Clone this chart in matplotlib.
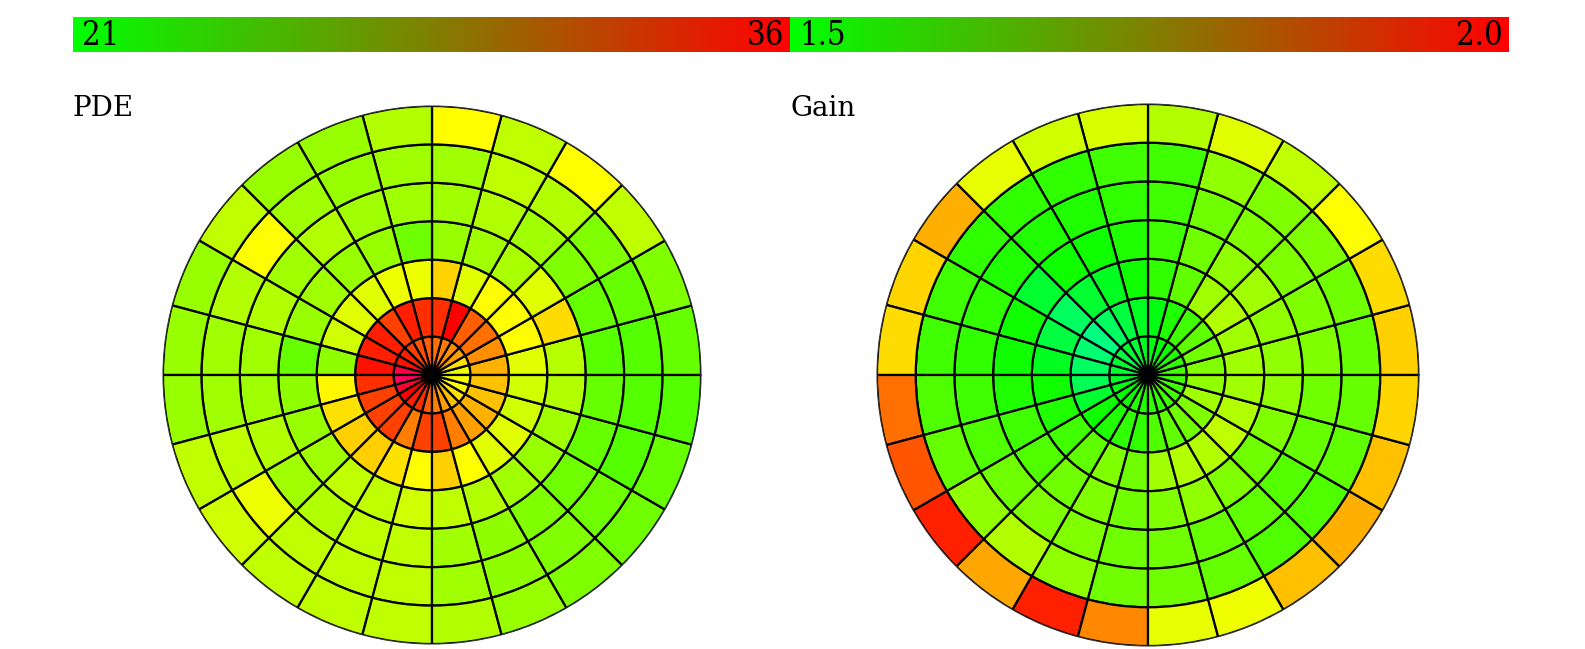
import numpy as np
import matplotlib
matplotlib.use("Agg")
import matplotlib.pyplot as plt
from matplotlib.colors import ListedColormap, LinearSegmentedColormap, Normalize, hsv_to_rgb
from matplotlib.cm import ScalarMappable

# ---------- datos: 7 anillos (de dentro hacia fuera) x 24 sectores de 15 grados ----------
sectores_grados = np.arange(0, 360, 15)

pde_min, pde_max = 21, 36
pde_r1 = [28.0, 29.4, 31.3, 31.8, 32.3, 32.7, 33.2, 33.6, 34.1, 35.1, 35.5, 37.9,
          38.8, 37.4, 36.0, 35.1, 34.6, 33.2, 32.3, 31.3, 30.3, 29.4, 28.5, 28.3]
pde_r2 = [30.8, 31.8, 32.7, 33.2, 36.0, 34.6, 34.6, 35.1, 34.1, 35.1, 35.1, 35.5,
          34.6, 34.1, 34.1, 34.1, 32.3, 34.1, 34.1, 32.3, 31.3, 30.8, 30.3, 30.3]
pde_r3 = [27.6, 28.5, 28.5, 28.5, 27.6, 29.8, 28.0, 28.0, 27.6, 27.6, 27.1, 25.2,
          28.7, 29.4, 29.9, 29.9, 29.4, 28.5, 29.9, 28.5, 27.6, 27.6, 27.1, 27.1]
pde_r4 = [26.4, 29.5, 27.6, 26.0, 25.7, 25.5, 24.3, 25.5, 25.5, 25.7, 25.5, 24.0,
          25.2, 25.5, 25.7, 26.6, 26.6, 27.1, 26.6, 26.2, 25.7, 25.5, 25.7, 26.2]
pde_r5 = [23.6, 24.0, 24.75, 25.7, 26.2, 25.7, 25.7, 25.7, 26.2, 25.7, 26.2, 25.7,
          25.7, 26.2, 25.7, 26.2, 26.6, 26.6, 25.7, 25.2, 24.75, 24.3, 24.0, 24.0]
pde_r6 = [23.5, 24.0, 24.75, 26.2, 26.6, 25.7, 25.7, 25.5, 25.7, 28.5, 26.2, 25.7,
          25.7, 26.6, 28.0, 26.6, 26.6, 26.6, 25.7, 25.2, 24.75, 24.3, 23.5, 23.5]
pde_r7 = [24.0, 24.75, 26.6, 28.5, 26.6, 28.5, 26.2, 25.5, 25.5, 26.6, 25.5, 25.5,
          25.5, 26.6, 27.1, 26.6, 26.6, 26.6, 26.2, 25.5, 24.75, 24.3, 24.0, 23.5]

gain_min, gain_max = 1.5, 2.0
gain_r1 = [1.563, 1.547, 1.531, 1.516, 1.500, 1.484, 1.469, 1.453, 1.453, 1.437, 1.453, 1.453,
           1.469, 1.484, 1.500, 1.516, 1.531, 1.531, 1.547, 1.547, 1.563, 1.563, 1.563, 1.563]
gain_r2 = [1.625, 1.610, 1.594, 1.563, 1.531, 1.484, 1.469, 1.437, 1.406, 1.375, 1.390, 1.406,
           1.420, 1.453, 1.516, 1.531, 1.547, 1.547, 1.578, 1.594, 1.610, 1.625, 1.657, 1.641]
gain_r3 = [1.657, 1.657, 1.673, 1.657, 1.594, 1.547, 1.516, 1.469, 1.453, 1.406, 1.437, 1.469,
           1.516, 1.531, 1.563, 1.594, 1.625, 1.610, 1.657, 1.673, 1.673, 1.688, 1.673, 1.657]
gain_r4 = [1.641, 1.641, 1.657, 1.641, 1.610, 1.563, 1.531, 1.516, 1.516, 1.453, 1.516, 1.516,
           1.531, 1.563, 1.578, 1.610, 1.625, 1.610, 1.625, 1.641, 1.625, 1.610, 1.625, 1.641]
gain_r5 = [1.625, 1.625, 1.625, 1.625, 1.610, 1.563, 1.547, 1.531, 1.531, 1.531, 1.547, 1.547,
           1.563, 1.578, 1.610, 1.625, 1.625, 1.610, 1.610, 1.600, 1.594, 1.583, 1.600, 1.610]
gain_r6 = [1.600, 1.610, 1.625, 1.625, 1.641, 1.563, 1.563, 1.547, 1.547, 1.547, 1.563, 1.563,
           1.578, 1.600, 1.641, 1.673, 1.641, 1.610, 1.610, 1.600, 1.578, 1.578, 1.594, 1.600]
gain_r7 = [1.796, 1.784, 1.750, 1.688, 1.720, 1.673, 1.712, 1.704, 1.727, 1.828, 1.791, 1.784,
           1.890, 1.917, 1.969, 1.838, 1.969, 1.867, 1.727, 1.735, 1.812, 1.828, 1.812, 1.791]

pde = np.array([pde_r1, pde_r2, pde_r3, pde_r4, pde_r5, pde_r6, pde_r7])
gain = np.array([gain_r1, gain_r2, gain_r3, gain_r4, gain_r5, gain_r6, gain_r7])

# ---------- mapas de color ----------
EXT = 0.6
tt = np.linspace(-EXT, 1 + EXT, 1024)
hue = ((1 - tt) / 3.0) % 1.0
mapa_celdas = ListedColormap(hsv_to_rgb(np.column_stack([hue, np.ones_like(hue), np.ones_like(hue)])))
mapa_barra = LinearSegmentedColormap.from_list("verde_rojo", ["#00ff00", "#ff0000"])

W, H = 1585, 649
fig = plt.figure(figsize=(W / 100, H / 100), dpi=100)


def caja(x0, y0, x1, y1):
    return [x0 / W, 1 - y1 / H, (x1 - x0) / W, (y1 - y0) / H]


def dibujar_polar(ax, datos, vmin, vmax):
    rango = vmax - vmin
    norm = Normalize(vmin - EXT * rango, vmax + EXT * rango)
    n_anillos, n_sect = datos.shape
    ancho = np.deg2rad(360 / n_sect)
    theta = np.deg2rad(sectores_grados) + ancho / 2
    colores = mapa_celdas(norm(datos))
    for i in range(n_anillos):
        ax.bar(theta, np.ones(n_sect), width=ancho, bottom=i, color=colores[i],
               edgecolor="black", linewidth=1.6)
    ax.set_ylim(0, n_anillos)
    ax.set_xticks([])
    ax.set_yticks([])
    ax.grid(False)
    ax.spines["polar"].set_linewidth(0.8)
    ax.spines["polar"].set_color("#333333")


def barra(x0, x1, vmin, vmax, txt_min, txt_max):
    cax = fig.add_axes(caja(x0, 17, x1, 52))
    cb = fig.colorbar(ScalarMappable(Normalize(vmin, vmax), mapa_barra), cax=cax,
                      orientation="horizontal")
    cb.set_ticks([])
    cb.outline.set_visible(False)
    estilo = dict(transform=cax.transAxes, va="center", fontsize=23.5,
                  family="DejaVu Serif", fontstretch="condensed")
    cax.text(0.013, 0.47, txt_min, ha="left", **estilo)
    cax.text(0.992, 0.47, txt_max, ha="right", **estilo)


barra(73, 790, pde_min, pde_max, "21", "36")
barra(790, 1509, gain_min, gain_max, "1.5", "2.0")

ax1 = fig.add_axes(caja(163, 106, 701, 644), projection="polar")
dibujar_polar(ax1, pde, pde_min, pde_max)
ax2 = fig.add_axes(caja(877, 104, 1419, 646), projection="polar")
dibujar_polar(ax2, gain, gain_min, gain_max)

fig.text(73 / W, 1 - 116 / H, "PDE", fontsize=20, family="DejaVu Serif", va="baseline")
fig.text(790 / W, 1 - 116 / H, "Gain", fontsize=20, family="DejaVu Serif", va="baseline")

fig.savefig("out.png", dpi=100)
